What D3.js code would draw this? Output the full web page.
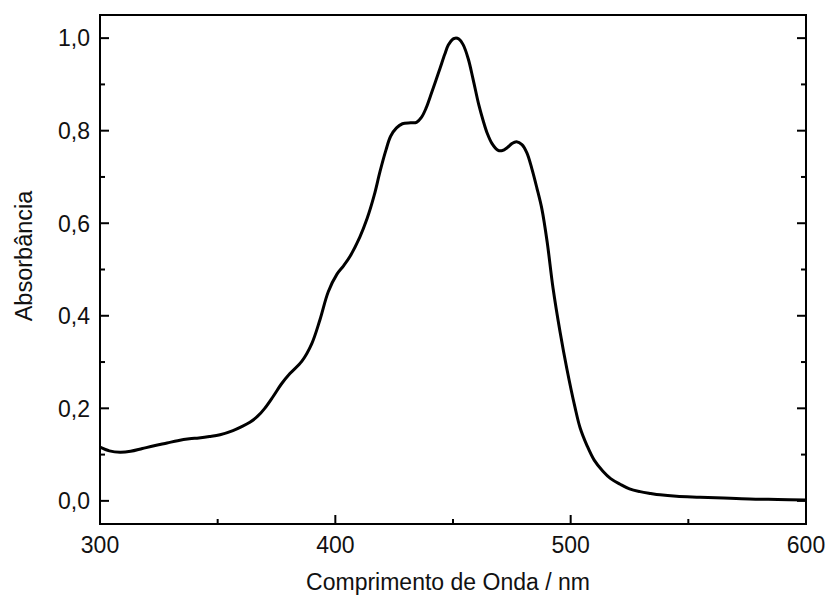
<!DOCTYPE html>
<html>
<head>
<meta charset="utf-8">
<script src="https://cdn.jsdelivr.net/npm/d3@7"></script>
<style>
  body { margin: 0; background: #fff; }
  svg { font-family: "Liberation Sans", Arial, sans-serif; }
</style>
</head>
<body>
<svg id="chart" width="826" height="596"></svg>
<script>
// UV-Vis absorption spectrum
const wavelength = [
  300, 304, 308.5, 313, 318, 323, 328.5, 333, 338, 342, 346.5, 351, 356.5, 360, 363.7,
  367, 370, 373.5, 377, 380.7, 385.8, 390, 393.5, 397, 400.7, 403.5, 406.2, 410.4, 413.5,
  416.5, 419, 421.5, 423.5, 426, 428.5, 432, 434.5, 436.5, 438.5, 440.5, 442.5, 444.5, 446.5,
  448, 450, 451, 452.5, 454.3, 456.5, 458.5, 461, 462.8, 464.5, 466.6, 469, 471, 473,
  475, 477, 479.3, 481.4, 483.5, 485.7, 487.8, 490, 492.5, 495.5, 498.4, 501.8, 504,
  506.9, 510, 513.7, 517, 521, 525, 529.5, 534, 538, 545, 555, 565, 576, 588, 600
];
const absorbance = [
  0.116, 0.108, 0.105, 0.107, 0.113, 0.119, 0.125, 0.130, 0.134, 0.136, 0.139, 0.143, 0.152, 0.160, 0.170,
  0.183, 0.200, 0.225, 0.252, 0.275, 0.302, 0.340, 0.392, 0.452, 0.490, 0.508, 0.528, 0.570, 0.610,
  0.660, 0.712, 0.758, 0.788, 0.806, 0.815, 0.817, 0.818, 0.828, 0.848, 0.876, 0.905, 0.935, 0.965,
  0.985, 0.998, 1.000, 0.998, 0.986, 0.955, 0.912, 0.855, 0.822, 0.795, 0.772, 0.758, 0.757, 0.763,
  0.772, 0.776, 0.770, 0.752, 0.718, 0.675, 0.630, 0.560, 0.460, 0.365, 0.285, 0.203, 0.158,
  0.120, 0.088, 0.064, 0.048, 0.036, 0.026, 0.020, 0.016, 0.013, 0.010, 0.008, 0.006, 0.004, 0.003, 0.002
];
const xTicks = [300, 400, 500, 600];
const xMinor = [350, 450, 550];
const yTicks = [0, 0.2, 0.4, 0.6, 0.8, 1.0];
const yMinor = [0.1, 0.3, 0.5, 0.7, 0.9];

const svg = d3.select("#chart");
const plot = { left: 100, right: 806, top: 15, bottom: 524 };

const x = d3.scaleLinear().domain([300, 600]).range([plot.left, plot.right]);
const y = d3.scaleLinear().domain([-0.05, 1.05]).range([plot.bottom, plot.top]);
const fmt = (d) => d3.format(".1f")(d).replace(".", ",");

// Frame
svg.append("rect")
  .attr("x", plot.left).attr("y", plot.top)
  .attr("width", plot.right - plot.left).attr("height", plot.bottom - plot.top)
  .attr("fill", "none").attr("stroke", "#000").attr("stroke-width", 2);

// Bottom ticks (inward)
const tickG = svg.append("g").attr("stroke", "#000").attr("stroke-width", 2);
xTicks.forEach((v) => {
  tickG.append("line").attr("x1", x(v)).attr("x2", x(v)).attr("y1", plot.bottom).attr("y2", plot.bottom - 9);
});
xMinor.forEach((v) => {
  tickG.append("line").attr("x1", x(v)).attr("x2", x(v)).attr("y1", plot.bottom).attr("y2", plot.bottom - 5);
});
// Left and right ticks (inward)
yTicks.forEach((v) => {
  tickG.append("line").attr("x1", plot.left).attr("x2", plot.left + 9).attr("y1", y(v)).attr("y2", y(v));
  tickG.append("line").attr("x1", plot.right).attr("x2", plot.right - 9).attr("y1", y(v)).attr("y2", y(v));
});
yMinor.forEach((v) => {
  tickG.append("line").attr("x1", plot.left).attr("x2", plot.left + 5).attr("y1", y(v)).attr("y2", y(v));
  tickG.append("line").attr("x1", plot.right).attr("x2", plot.right - 5).attr("y1", y(v)).attr("y2", y(v));
});

// Tick labels
svg.append("g").selectAll("text").data(xTicks).enter().append("text")
  .attr("x", (d) => x(d)).attr("y", 553)
  .attr("text-anchor", "middle").attr("font-size", 23).attr("fill", "#111")
  .text((d) => d);

svg.append("g").selectAll("text").data(yTicks).enter().append("text")
  .attr("x", 90).attr("y", (d) => y(d))
  .attr("dy", "0.36em")
  .attr("text-anchor", "end").attr("font-size", 23).attr("fill", "#111")
  .text(fmt);

// Axis titles
svg.append("text")
  .attr("x", 448).attr("y", 590)
  .attr("text-anchor", "middle").attr("font-size", 23).attr("fill", "#111")
  .text("Comprimento de Onda / nm");

svg.append("text")
  .attr("transform", "translate(32,256) rotate(-90)")
  .attr("text-anchor", "middle").attr("font-size", 23.5).attr("fill", "#111")
  .text("Absorbância");

// Spectrum
const pts = wavelength.map((w, i) => [w, absorbance[i]]);
const line = d3.line()
  .x((d) => x(d[0]))
  .y((d) => y(d[1]))
  .curve(d3.curveCatmullRom.alpha(0.5));

svg.append("path")
  .datum(pts)
  .attr("d", line)
  .attr("fill", "none")
  .attr("stroke", "#000")
  .attr("stroke-width", 3)
  .attr("stroke-linejoin", "round");
</script>
</body>
</html>
